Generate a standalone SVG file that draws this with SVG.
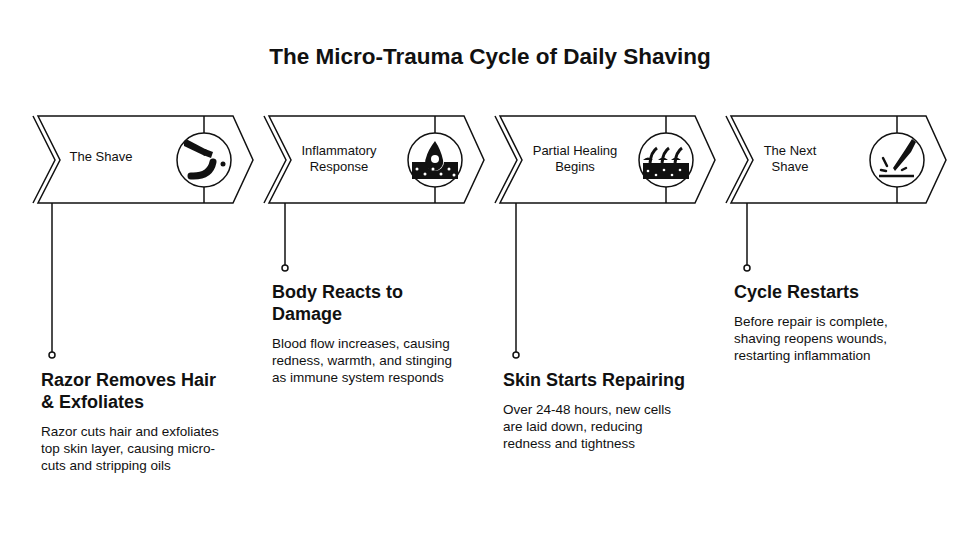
<svg xmlns="http://www.w3.org/2000/svg" width="980" height="539" viewBox="0 0 980 539">
<style>
.ch{fill:#fff;stroke:#111;stroke-width:1.5}
.ln{fill:none;stroke:#111;stroke-width:1.5}
.lab{font-family:"Liberation Sans",Arial,sans-serif;font-size:13px;fill:#111;text-anchor:middle}
.h{font-family:"Liberation Sans",Arial,sans-serif;font-size:18px;font-weight:bold;fill:#111}
.d{font-family:"Liberation Sans",Arial,sans-serif;font-size:13.5px;fill:#111}
.ic{fill:#111}
</style>
<defs>
<g id="chev">
<polygon class="ch" points="38,116 233,116 253,160 233,203 38,203 60,160"/>
<polyline class="ln" points="33,116 55,160 33,203"/>
<line class="ln" x1="204" y1="116" x2="204" y2="203"/>
<circle class="ch" cx="204" cy="160" r="27"/>
</g>
</defs>
<rect width="980" height="539" fill="#fff"/>
<text x="490" y="64" text-anchor="middle" font-family="Liberation Sans,Arial,sans-serif" font-size="22.5" font-weight="bold" fill="#111">The Micro-Trauma Cycle of Daily Shaving</text>
<g id="connectors">
<line class="ln" x1="52" y1="203" x2="52" y2="352"/><circle class="ch" cx="52" cy="355" r="3"/>
<line class="ln" x1="285" y1="203" x2="285" y2="265"/><circle class="ch" cx="285" cy="268" r="3"/>
<line class="ln" x1="516" y1="203" x2="516" y2="352"/><circle class="ch" cx="516" cy="355" r="3"/>
<line class="ln" x1="747" y1="203" x2="747" y2="265"/><circle class="ch" cx="747" cy="268" r="3"/>
</g>
<g id="n1">
<use href="#chev"/>
<text class="lab" x="101" y="161">The Shave</text>
<path class="ic" d="M184,146 Q183,139 188,140 L207,150 L205,156 Z"/>
<path class="ic" d="M205,149 L213,152 L211,158 L203,155 Z"/>
<path d="M213,162 Q210,177 191,176" fill="none" stroke="#111" stroke-width="7" stroke-linecap="round"/>
<circle class="ic" cx="223" cy="164" r="2.5"/>
<text class="h" x="41" y="386">Razor Removes Hair</text>
<text class="h" x="41" y="408">&amp; Exfoliates</text>
<text class="d" x="41" y="436">Razor cuts hair and exfoliates</text>
<text class="d" x="41" y="453">top skin layer, causing micro-</text>
<text class="d" x="41" y="470">cuts and stripping oils</text>
</g>
<g id="n2" transform="translate(231,0)">
<use href="#chev"/>
<text class="lab" x="108" y="155">Inflammatory</text>
<text class="lab" x="108" y="171">Response</text>
<path class="ic" d="M204,141 Q197,150 195,158 A9,9 0 1 0 212,160 Q210,150 204,141 Z"/>
<path class="ic" d="M181,162 L195,162 A9,9 0 0 0 213,162 L227,162 L227,179 L181,179 Z"/>
<circle cx="204" cy="159" r="4" fill="#fff"/>
<g fill="#fff"><circle cx="186" cy="169" r="1.5"/><circle cx="194" cy="174" r="1.5"/><circle cx="202" cy="169" r="1.5"/><circle cx="210" cy="174" r="1.5"/><circle cx="218" cy="169" r="1.5"/><circle cx="223" cy="175" r="1.5"/></g>
<text class="h" x="41" y="298">Body Reacts to</text>
<text class="h" x="41" y="320">Damage</text>
<text class="d" x="41" y="348">Blood flow increases, causing</text>
<text class="d" x="41" y="365">redness, warmth, and stinging</text>
<text class="d" x="41" y="382">as immune system responds</text>
</g>
<g id="n3" transform="translate(462,0)">
<use href="#chev"/>
<text class="lab" x="113" y="155">Partial Healing</text>
<text class="lab" x="113" y="171">Begins</text>
<rect class="ic" x="181" y="163" width="46" height="16"/>
<path d="M188,163 Q189,152 195,148 M200,163 Q201,152 207,148 M213,163 Q214,152 220,148" fill="none" stroke="#111" stroke-width="3"/>
<path class="ic" d="M181,160 Q186,155 191,160 Z M196,160 Q201,155 206,160 Z M209,160 Q214,155 219,160 Z"/>
<g fill="#fff"><circle cx="186" cy="171" r="1.3"/><circle cx="194" cy="175" r="1.3"/><circle cx="202" cy="170" r="1.3"/><circle cx="210" cy="175" r="1.3"/><circle cx="218" cy="170" r="1.3"/></g>
<text class="h" x="41" y="386">Skin Starts Repairing</text>
<text class="d" x="41" y="414">Over 24-48 hours, new cells</text>
<text class="d" x="41" y="431">are laid down, reducing</text>
<text class="d" x="41" y="448">redness and tightness</text>
</g>
<g id="n4" transform="translate(693,0)">
<use href="#chev"/>
<text class="lab" x="97" y="155">The Next</text>
<text class="lab" x="97" y="171">Shave</text>
<path class="ic" d="M219,139 L223,142 L218,152 L202,171 L200,168 L212,150 Z"/>
<line class="ln" x1="186" y1="176" x2="221" y2="176" style="stroke-width:2.5"/>
<path d="M190,158 L194,166 M188,170 L193,171 M209,170 L213,168" stroke="#111" stroke-width="2.5" stroke-linecap="round"/>
<text class="h" x="41" y="298">Cycle Restarts</text>
<text class="d" x="41" y="326">Before repair is complete,</text>
<text class="d" x="41" y="343">shaving reopens wounds,</text>
<text class="d" x="41" y="360">restarting inflammation</text>
</g>
</svg>
